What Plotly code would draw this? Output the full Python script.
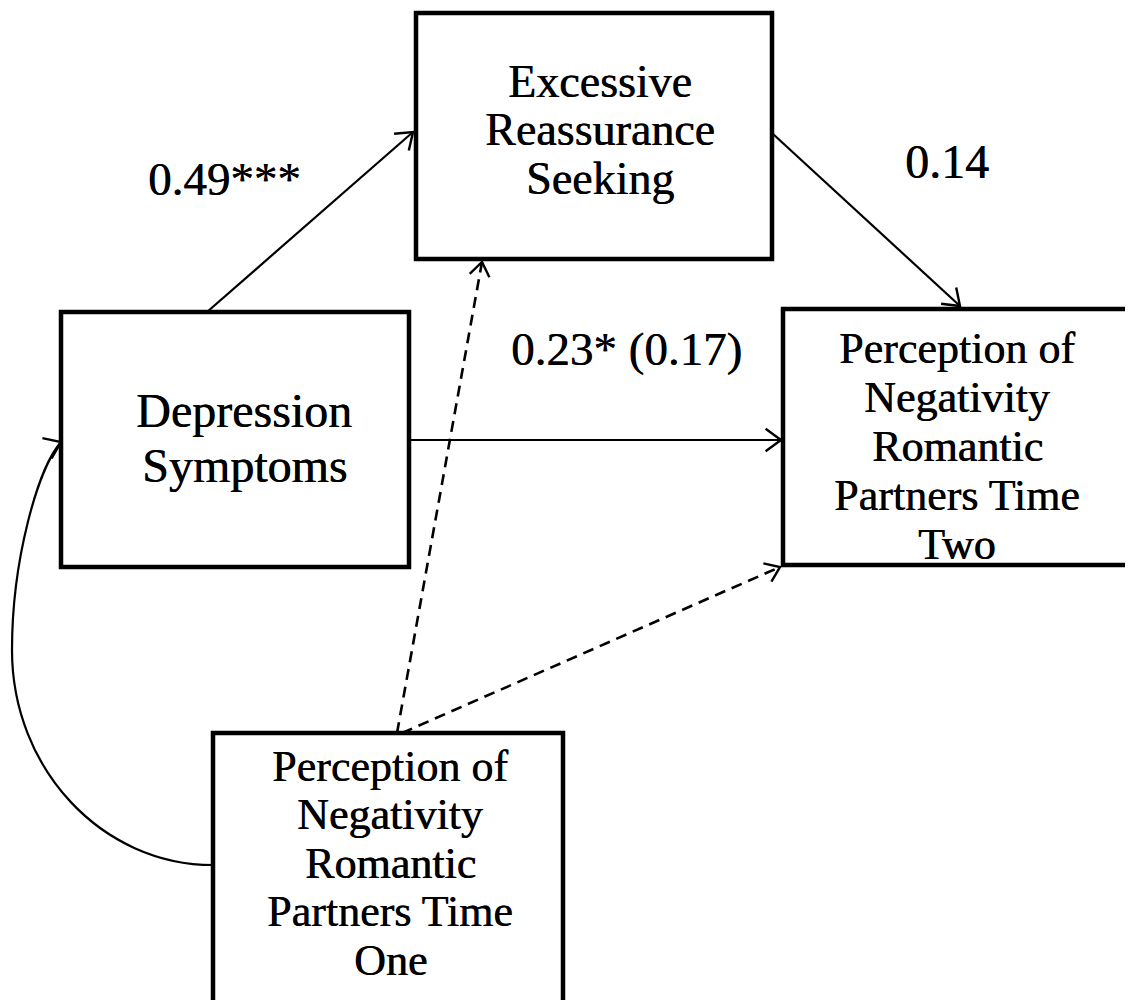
import math
import plotly.graph_objects as go

# ---- content (text of the path diagram) ----
ers_lines = ["Excessive", "Reassurance", "Seeking"]
dep_lines = ["Depression", "Symptoms"]
t2_lines = ["Perception of", "Negativity", "Romantic", "Partners Time", "Two"]
t1_lines = ["Perception of", "Negativity", "Romantic", "Partners Time", "One"]
path_labels = ["0.49***", "0.14", "0.23* (0.17)"]

# ---- layout geometry (pixels of the 1133x1000 page, y downward) ----
W, H = 1133, 1000
OFF = 8  # default page margin of the html body
FONT = "Liberation Serif, Times New Roman, serif"
SHADOW = "0.6px 0px 0px black"

boxes = {
    "ers": dict(x0=416, y0=13, x1=772, y1=259),
    "dep": dict(x0=61, y0=312, x1=409, y1=567),
    "t2": dict(x0=783, y0=309, x1=1140, y1=565),
    "t1": dict(x0=213, y0=733, x1=563, y1=1010),
}

text_blocks = [
    (ers_lines, 600, 97, 48.5, 46),
    (dep_lines, 244, 427, 55, 48),
    (t2_lines, 957, 363, 49, 44),
    (t1_lines, 390, 781, 48.5, 44),
]

label_pos = [(224, 195, 47), (947, 178, 48), (626, 365, 47)]

arrows_solid = [((207, 312), (413, 132)), ((773, 134), (960, 306)), ((409, 440), (781, 440))]
arrows_dashed = [((397, 733), (482, 262)), ((402, 733), (780, 567))]

fig = go.Figure()
shapes = []
annotations = []

for b in boxes.values():
    shapes.append(dict(type="rect", xref="x", yref="y", **b,
                       line=dict(color="black", width=4.5), fillcolor="rgba(0,0,0,0)"))


def head(tip, direction, length=19, half_angle=36):
    dx, dy = direction
    n = math.hypot(dx, dy)
    ux, uy = dx / n, dy / n
    pts = []
    for s in (1, -1):
        a = math.radians(half_angle) * s
        rx = ux * math.cos(a) - uy * math.sin(a)
        ry = ux * math.sin(a) + uy * math.cos(a)
        pts.append((tip[0] - length * rx, tip[1] - length * ry))
    return "M {:.1f} {:.1f} L {:.1f} {:.1f} L {:.1f} {:.1f}".format(
        pts[0][0], pts[0][1], tip[0], tip[1], pts[1][0], pts[1][1])


for (p0, p1) in arrows_solid:
    shapes.append(dict(type="path", xref="x", yref="y",
                       path="M {} {} L {} {}".format(p0[0], p0[1], p1[0], p1[1]),
                       line=dict(color="black", width=2.2)))
    shapes.append(dict(type="path", xref="x", yref="y",
                       path=head(p1, (p1[0] - p0[0], p1[1] - p0[1])),
                       line=dict(color="black", width=2.4)))

for (p0, p1) in arrows_dashed:
    shapes.append(dict(type="path", xref="x", yref="y",
                       path="M {} {} L {} {}".format(p0[0], p0[1], p1[0], p1[1]),
                       line=dict(color="black", width=2.6, dash="11px,7px")))
    shapes.append(dict(type="path", xref="x", yref="y",
                       path=head(p1, (p1[0] - p0[0], p1[1] - p0[1]), length=17),
                       line=dict(color="black", width=2.4)))

# curved arrow from the Time One box to Depression Symptoms
shapes.append(dict(type="path", xref="x", yref="y",
                   path="M 213 865 C 102 865 12 769 12 650 C 12 560 38 468 61 442",
                   line=dict(color="black", width=2.2)))
shapes.append(dict(type="path", xref="x", yref="y",
                   path=head((61, 442), (1, -0.45), length=19),
                   line=dict(color="black", width=2.4)))

ASC = 0.3375
for lines, cx, b0, sp, size in text_blocks:
    for i, t in enumerate(lines):
        base = b0 + i * sp
        annotations.append(dict(x=cx, y=base - ASC * size, xref="x", yref="y", text=t,
                                showarrow=False, xanchor="center", yanchor="middle",
                                font=dict(family=FONT, size=size, color="black",
                                          shadow=SHADOW)))

for t, (cx, base, size) in zip(path_labels, label_pos):
    annotations.append(dict(x=cx, y=base - ASC * size, xref="x", yref="y", text=t,
                            showarrow=False, xanchor="center", yanchor="middle",
                            font=dict(family=FONT, size=size, color="black",
                                      shadow=SHADOW)))

fig.update_layout(
    width=W - OFF, height=H - OFF, autosize=False,
    margin=dict(l=0, r=0, t=0, b=0, pad=0),
    paper_bgcolor="white", plot_bgcolor="white",
    xaxis=dict(range=[OFF, W], visible=False, fixedrange=True),
    yaxis=dict(range=[H, OFF], visible=False, fixedrange=True),
    shapes=shapes, annotations=annotations, showlegend=False,
)

fig.write_html("out.html")
